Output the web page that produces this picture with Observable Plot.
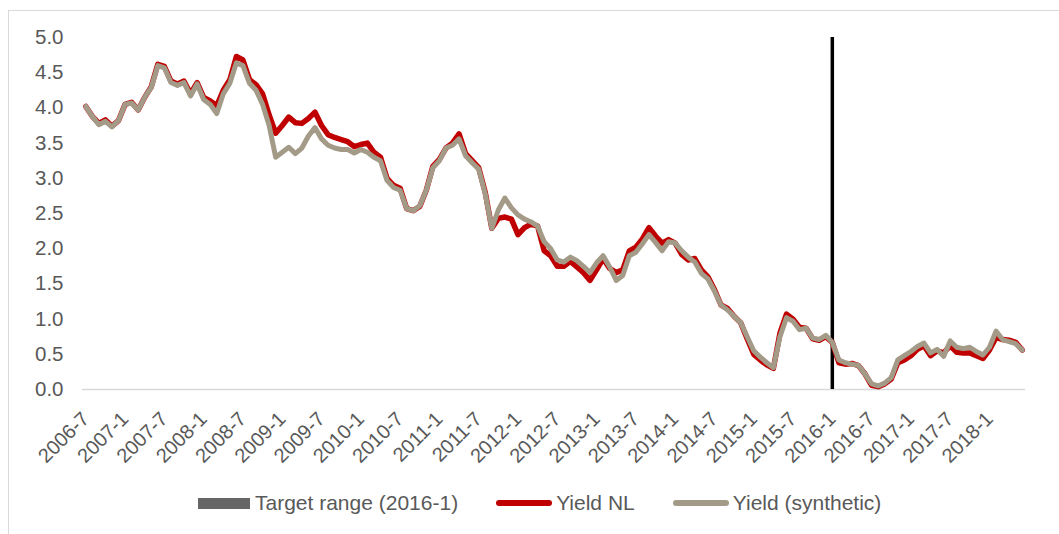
<!DOCTYPE html>
<html>
<head>
<meta charset="utf-8">
<script src="https://cdn.jsdelivr.net/npm/d3@7"></script>
<script src="https://cdn.jsdelivr.net/npm/@observablehq/plot@0.6"></script>
<style>
  html, body { margin: 0; padding: 0; background: #fff; overflow: hidden; }
  body { width: 1059px; height: 534px; position: relative; font-family: "Liberation Sans", Arial, sans-serif; }
  #frame { position: absolute; left: 8px; top: 10px; width: 1100px; height: 600px; border: 1.5px solid #D9D9D9; box-sizing: border-box; }
  #chart { position: absolute; left: 0; top: 0; }
  #legend { position: absolute; left: 198px; top: 490px; height: 26px; display: flex; align-items: center; color: #595959; font-size: 21px; white-space: nowrap; }
  .sw-bar { width: 52px; height: 11px; background: #666666; margin-right: 5px; }
  .sw-line { width: 56px; height: 6px; border-radius: 3px; margin-right: 4px; }
  .item { display: flex; align-items: center; margin-right: 38px; }
</style>
</head>
<body>
<div id="frame"></div>
<div id="chart"></div>
<div id="legend">
  <div class="item"><div class="sw-bar"></div><span>Target range (2016-1)</span></div>
  <div class="item"><div class="sw-line" style="background:#C00000"></div><span>Yield NL</span></div>
  <div class="item"><div class="sw-line" style="background:#A39B88"></div><span>Yield (synthetic)</span></div>
</div>
<script>
// Monthly categories, 2006-7 .. 2018-6
const startYear = 2006, startMonth = 7, nMonths = 144;
const categories = [];
for (let k = 0; k < nMonths; k++) {
  const m = startMonth - 1 + k;
  categories.push(`${startYear + Math.floor(m / 12)}-${(m % 12) + 1}`);
}

const tickLabels = ["2006-7","2007-1","2007-7","2008-1","2008-7","2009-1","2009-7","2010-1","2010-7",
  "2011-1","2011-7","2012-1","2012-7","2013-1","2013-7","2014-1","2014-7","2015-1","2015-7",
  "2016-1","2016-7","2017-1","2017-7","2018-1"];
const yTicks = [0, 0.5, 1, 1.5, 2, 2.5, 3, 3.5, 4, 4.5, 5];

const yieldNL = [
  4.02,3.88,3.78,3.83,3.74,3.82,4.05,4.08,3.97,4.15,
  4.30,4.62,4.59,4.38,4.34,4.38,4.20,4.36,4.15,4.10,
  4.03,4.25,4.40,4.73,4.68,4.40,4.33,4.20,3.90,3.64,
  3.75,3.87,3.79,3.78,3.85,3.94,3.75,3.62,3.58,3.55,
  3.52,3.45,3.48,3.50,3.37,3.30,3.00,2.90,2.86,2.57,
  2.54,2.60,2.83,3.17,3.27,3.43,3.50,3.63,3.35,3.25,
  3.15,2.80,2.29,2.43,2.45,2.42,2.20,2.30,2.35,2.32,
  1.97,1.90,1.75,1.75,1.82,1.74,1.66,1.55,1.70,1.86,
  1.72,1.66,1.70,1.97,2.02,2.14,2.30,2.18,2.08,2.13,
  2.08,1.92,1.84,1.86,1.70,1.60,1.42,1.20,1.15,1.04,
  0.95,0.72,0.50,0.42,0.35,0.30,0.80,1.07,1.00,0.88,
  0.87,0.72,0.70,0.75,0.67,0.38,0.36,0.37,0.34,0.22,
  0.06,0.04,0.08,0.15,0.38,0.42,0.48,0.57,0.62,0.48,
  0.55,0.52,0.62,0.53,0.52,0.52,0.48,0.44,0.56,0.74,
  0.71,0.70,0.67,0.56
];
const yieldSynthetic = [
  4.02,3.88,3.76,3.81,3.73,3.82,4.05,4.07,3.97,4.15,
  4.29,4.60,4.57,4.36,4.32,4.36,4.17,4.34,4.12,4.05,
  3.92,4.20,4.35,4.64,4.60,4.35,4.25,4.05,3.75,3.30,
  3.37,3.44,3.35,3.43,3.60,3.72,3.56,3.47,3.43,3.41,
  3.41,3.36,3.41,3.37,3.30,3.25,2.97,2.87,2.83,2.57,
  2.54,2.61,2.83,3.15,3.25,3.43,3.47,3.56,3.32,3.22,
  3.13,2.78,2.29,2.55,2.72,2.58,2.48,2.42,2.38,2.32,
  2.10,2.00,1.84,1.81,1.88,1.83,1.75,1.66,1.80,1.90,
  1.74,1.55,1.62,1.90,1.95,2.07,2.20,2.09,1.97,2.10,
  2.08,1.97,1.88,1.81,1.65,1.57,1.40,1.20,1.13,1.04,
  0.95,0.75,0.55,0.46,0.38,0.31,0.75,1.02,0.97,0.85,
  0.87,0.73,0.71,0.77,0.67,0.42,0.38,0.36,0.34,0.22,
  0.08,0.05,0.09,0.17,0.42,0.48,0.54,0.61,0.66,0.52,
  0.57,0.47,0.69,0.60,0.58,0.60,0.54,0.49,0.60,0.83,
  0.71,0.68,0.65,0.56
];
const targetRange = [{ month: "2016-1", value: 5 }];

const data = categories.map((c, i) => ({ i, month: c, nl: yieldNL[i], syn: yieldSynthetic[i] }));
const tickIdx = tickLabels.map(t => categories.indexOf(t));

const chart = Plot.plot({
  width: 1059,
  height: 470,
  marginLeft: 82,
  marginRight: 34,
  marginTop: 37,
  marginBottom: 81,
  style: { color: "#595959", fontFamily: "'Liberation Sans', Arial, sans-serif", background: "transparent", overflow: "visible" },
  x: { type: "linear", domain: [-0.5, nMonths - 0.5] },
  y: { domain: [0, 5] },
  marks: [
    Plot.ruleY([0], { stroke: "#D9D9D9", strokeWidth: 1.5 }),
    Plot.axisY({ ticks: yTicks, tickSize: 0, tickPadding: 19, tickFormat: d => d.toFixed(1), fontSize: 20.5, label: null }),
    Plot.axisX({ ticks: tickIdx, tickFormat: i => categories[i], tickRotate: -45, tickSize: 0, tickPadding: 26, fontSize: 20, label: null }),
    Plot.ruleX(targetRange, { x: d => categories.indexOf(d.month), y1: 0, y2: "value", stroke: "#000000", strokeWidth: 3.5 }),
    Plot.line(data, { x: "i", y: "nl", stroke: "#C00000", strokeWidth: 5.5, strokeLinejoin: "round", strokeLinecap: "round" }),
    Plot.line(data, { x: "i", y: "syn", stroke: "#A39B88", strokeWidth: 5, strokeLinejoin: "round", strokeLinecap: "round" })
  ]
});
document.getElementById("chart").appendChild(chart);
</script>
</body>
</html>
